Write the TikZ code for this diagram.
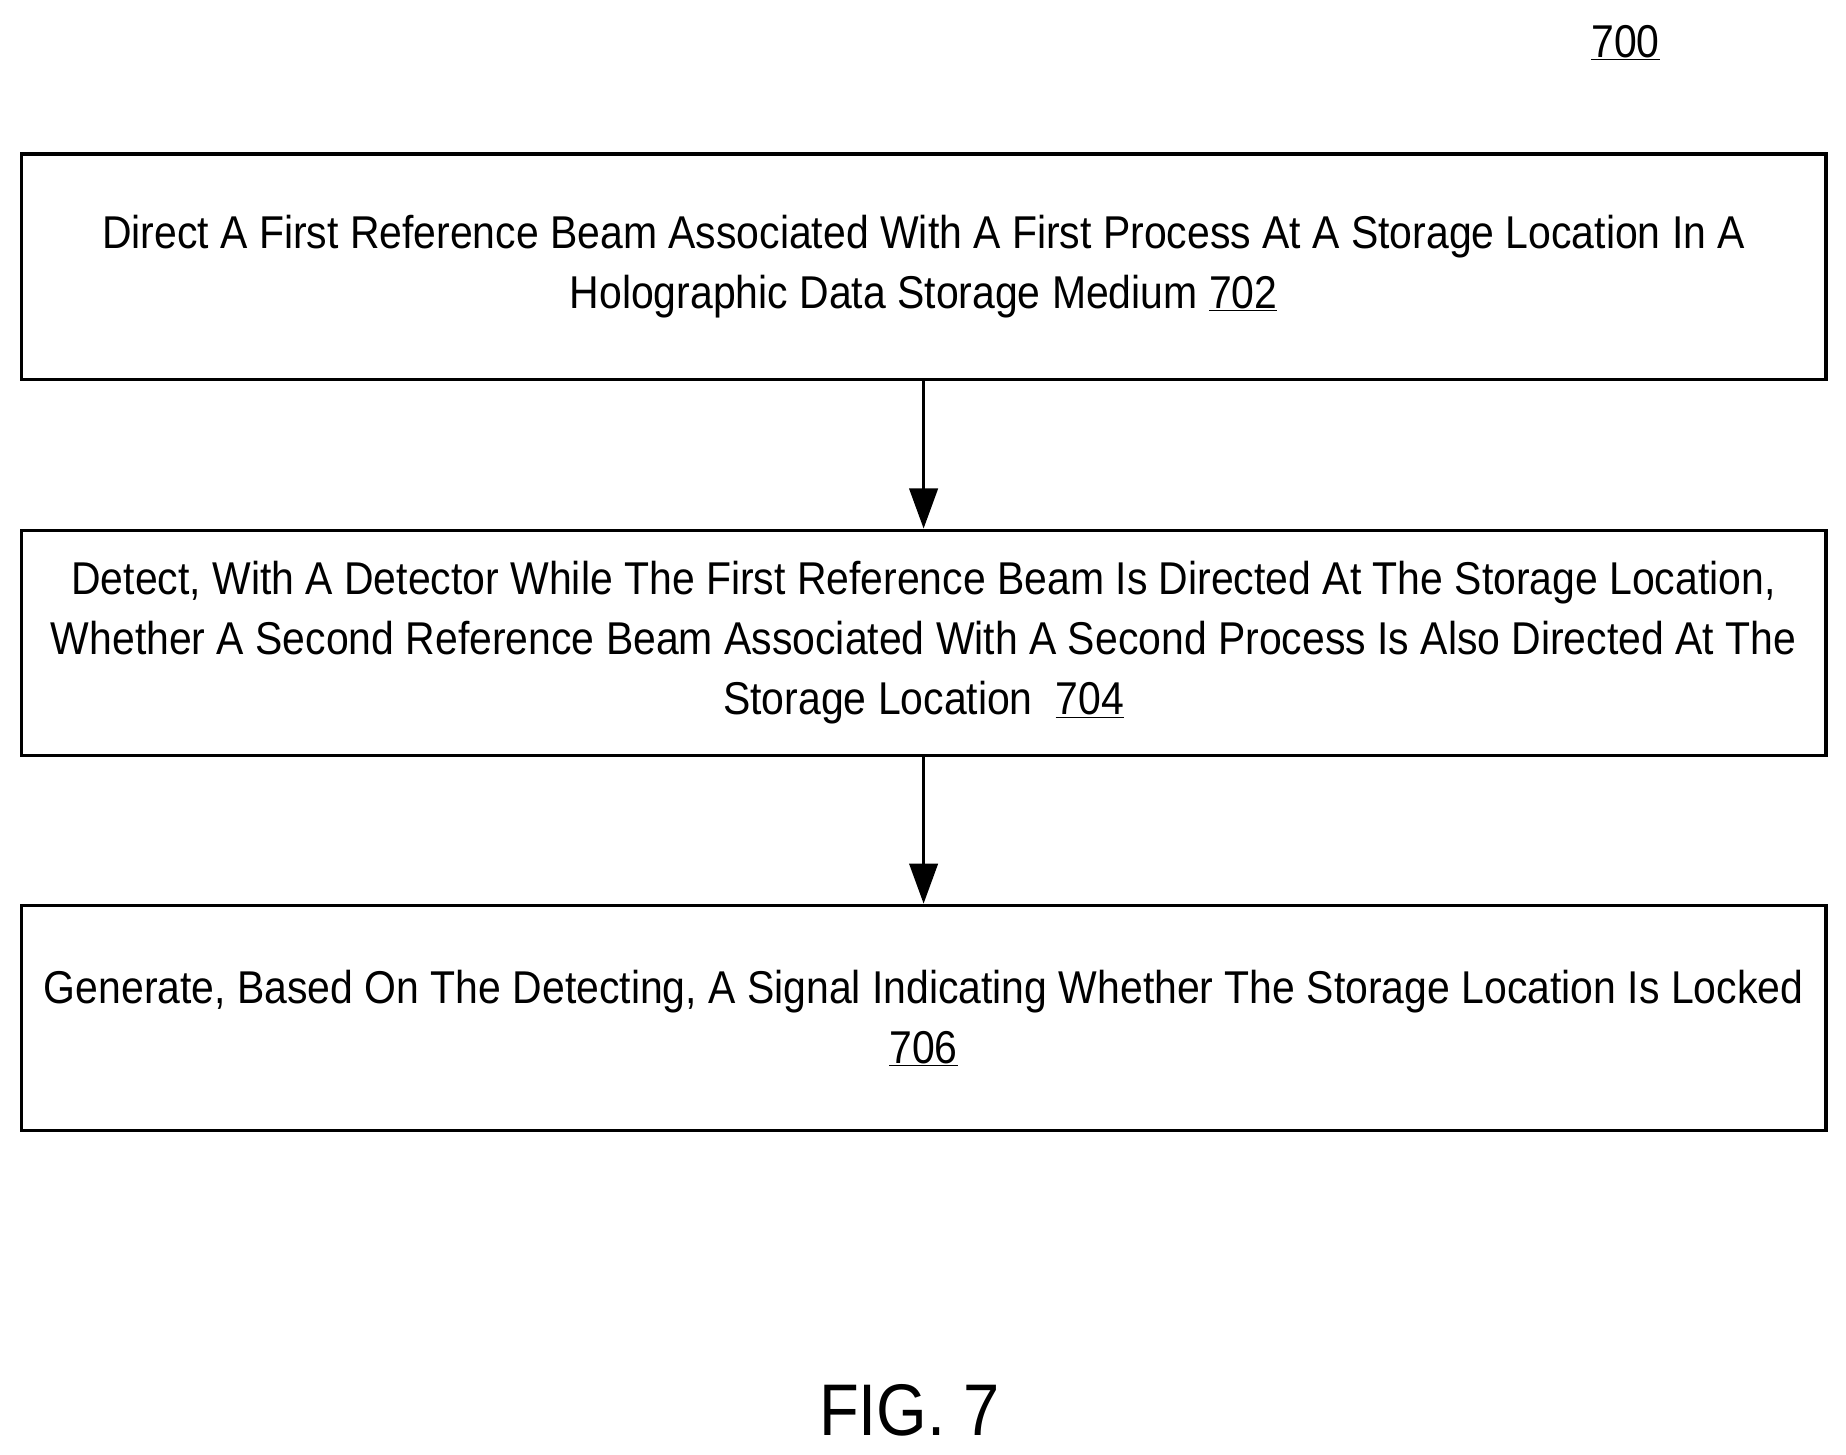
\documentclass[tikz,border=0pt]{standalone}
\usepackage{fontspec}
\setmainfont{Liberation Sans}[FakeStretch=0.89]
\usetikzlibrary{arrows.meta}
\begin{document}
\begin{tikzpicture}[x=1pt,y=-1pt,
 box/.style={draw,line width=2.8pt,minimum width=1530pt,minimum height=191pt,align=center,font=\fontsize{39}{51}\selectfont,inner sep=0pt},
 arr/.style={line width=2.8pt,-{Triangle[length=34pt,width=24pt]}}]
\useasboundingbox (0,0) rectangle (1565,1233);
\node[font=\fontsize{39}{40}\selectfont] (n700) at (1378,36) {\underline{700}};
\node[box] (b1) at (783,226) {Direct A First Reference Beam Associated With A First Process At A Storage Location In A\\Holographic Data Storage Medium \underline{702}};
\node[box] (b2) at (783,545) {Detect, With A Detector While The First Reference Beam Is Directed At The Storage Location,\\Whether A Second Reference Beam Associated With A Second Process Is Also Directed At The\\Storage Location\ \ \underline{704}};
\node[box] (b3) at (783,863) {Generate, Based On The Detecting, A Signal Indicating Whether The Storage Location Is Locked\\\underline{706}};
\draw[arr] (b1.south) -- (b2.north);
\draw[arr] (b2.south) -- (b3.north);
\node[font=\fontsize{62}{66}\selectfont] (fig) at (771,1196) {FIG. 7};
\end{tikzpicture}
\end{document}
